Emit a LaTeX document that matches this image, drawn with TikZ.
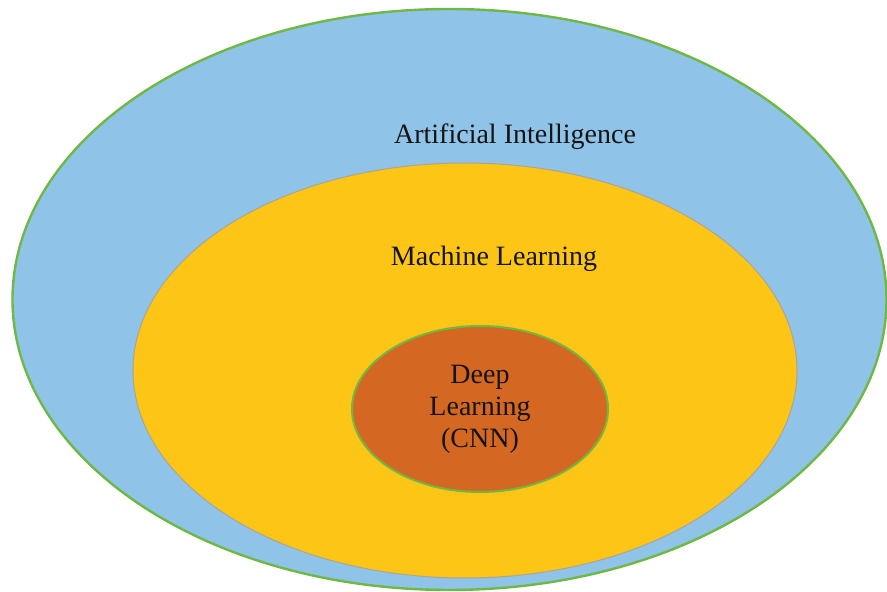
\documentclass[tikz,border=0pt]{standalone}
\usepackage{fontspec}
\setmainfont{Liberation Serif}
\usetikzlibrary{shapes.geometric}
\definecolor{aiblue}{RGB}{143,195,232}
\definecolor{mlyellow}{RGB}{253,197,22}
\definecolor{dlbrown}{RGB}{212,104,34}
\definecolor{rimgreen}{RGB}{112,184,68}
\definecolor{rimgray}{RGB}{170,165,150}
\definecolor{labelink}{RGB}{20,20,20}

\begin{document}
\begin{tikzpicture}[x=1pt, y=1pt, field/.style = {shape=ellipse, inner sep=0pt, outer sep=0pt}, caption/.style = {align=center, text=labelink, font=\fontsize{28}{32}\selectfont}]
				\useasboundingbox (0,0) rectangle (887,592);
				\node[field, fill=aiblue, draw=rimgreen, line width=2.4pt, minimum width=874pt, minimum height=581pt] (ai) at (449.5,292.5) {};
				\node[field, fill=mlyellow, draw=rimgray, line width=1pt, minimum width=664pt, minimum height=415pt] (ml) at (465,221.5) {};
				\node[field, fill=dlbrown, draw=rimgreen, line width=2pt, minimum width=256pt, minimum height=166pt] (dl) at (480,183) {};
				\node[caption] (ailabel) at (515,455) {Artificial Intelligence};
				\node[caption] (mllabel) at (494,333) {Machine Learning};
				\node[caption] (dllabel) at (dl.center) {Deep\\Learning\\(CNN)};
			\end{tikzpicture}
\end{document}
